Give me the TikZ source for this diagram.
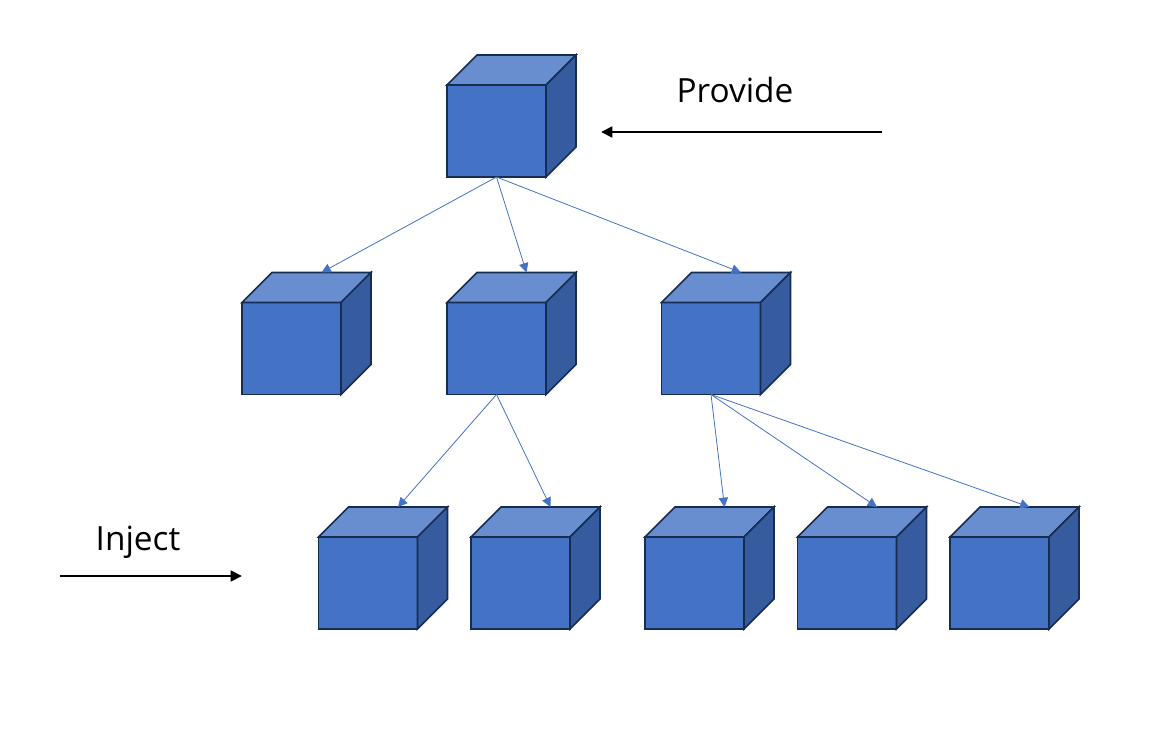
\documentclass[tikz,border=0pt]{standalone}
\usepackage{fontspec}
\setmainfont{Open Sans}
\usetikzlibrary{arrows.meta,calc}
\definecolor{CubeFront}{RGB}{68,114,196}
\definecolor{CubeTop}{RGB}{105,142,208}
\definecolor{CubeSide}{RGB}{54,91,158}
\definecolor{CubeEdge}{RGB}{23,44,81}

% one cube: front face is the named node, top and side drawn from its anchors
\newcommand{\drawcube}[2]{%
   \node[cubefront] (#1) at (#2) {};
   \draw[cubeedge,fill=CubeTop] (#1.north west) -- ($(#1.north west)+(30,-30)$)
      -- ($(#1.north east)+(30,-30)$) -- (#1.north east) -- cycle;
   \draw[cubeedge,fill=CubeSide] (#1.north east) -- ($(#1.north east)+(30,-30)$)
      -- ($(#1.south east)+(30,-30)$) -- (#1.south east) -- cycle;
   \coordinate (#1-back) at ($(#1.north)+(30,-30)$);
}

\begin{document}
\begin{tikzpicture}[x=0.75pt,y=-0.75pt,
   cubeedge/.style={draw=CubeEdge,line width=1.2pt,line join=miter},
   cubefront/.style={cubeedge,fill=CubeFront,rectangle,outer sep=0pt,inner sep=0pt,minimum width=74.25pt,minimum height=69pt},
   link/.style={draw=CubeFront,line width=0.6pt,-{Triangle[length=7pt,width=7pt]}},
   flow/.style={draw=black,line width=2.2pt,-{Triangle[length=8.5pt,width=8pt]}},
   caption/.style={font=\fontsize{25}{30}\selectfont,anchor=base}]
\useasboundingbox (0,0) rectangle (1168,756);
\drawcube{root}{496.5,131}
\foreach \n/\x in {a/291.5,b/496.5,c/711} {
   \drawcube{\n}{\x,348.5}
}
\foreach \n/\x in {d/368,e/520.5,f/694.5,g/847,h/999.5} {
   \drawcube{\n}{\x,583}
}
\foreach \s/\t in {root/a,root/b,root/c,b/d,b/e,c/f,c/g,c/h} {
   \draw[link] (\s.south) -- (\t-back);
}
\coordinate (provide-from) at (882,132);
\coordinate (provide-to) at (601,132);
\draw[flow] (provide-from) -- (provide-to);
\node[caption] (provide) at (735,103) {Provide};
\coordinate (inject-from) at (60,576);
\coordinate (inject-to) at (242,576);
\draw[flow] (inject-from) -- (inject-to);
\node[caption] (inject) at (138,550) {Inject};
\end{tikzpicture}
\end{document}
